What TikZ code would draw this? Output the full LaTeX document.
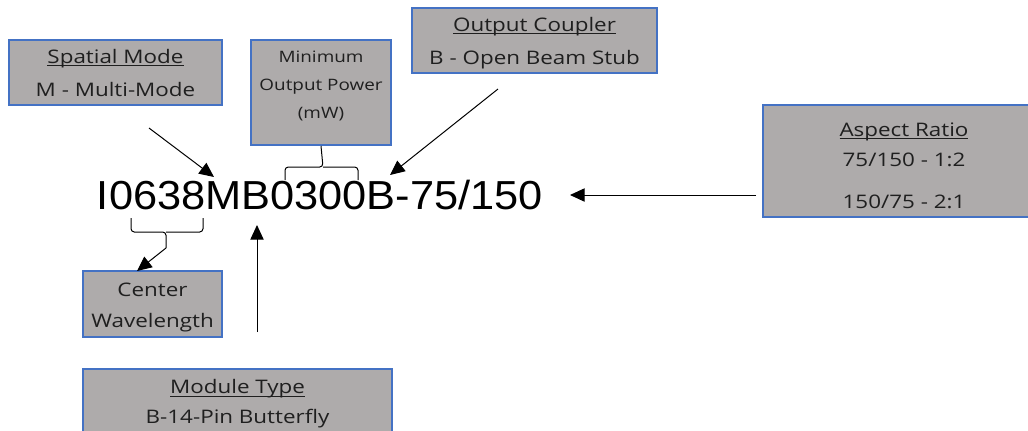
\documentclass[tikz,border=0pt]{standalone}
\usepackage{fontspec}
\usepackage{xcolor}
\usepackage{tikz}
\usetikzlibrary{
    positioning,
    arrows.meta,
    calc
}
\newfontfamily\boxfont[FakeStretch=1.2]{Open Sans}
\newfontfamily\codefont[FakeStretch=1.07]{Liberation Sans}
\definecolor{boxgray}{HTML}{AEABAB}
\definecolor{boxblue}{HTML}{4472C4}
\definecolor{boxtext}{HTML}{1F1F1F}
\newsavebox{\headbox}
\newcommand{\heading}[1]{\sbox{\headbox}{#1}\rlap{\rule[-2.2pt]{\wd\headbox}{0.7pt}}\usebox{\headbox}}

\begin{document}
\begin{tikzpicture}[x=0.75pt, y=-0.75pt,
    infobox/.style={draw=boxblue, line width=1.5pt, fill=boxgray, text=boxtext, align=center, inner sep=0pt},
    pointer/.style={-{Triangle[length=11pt, width=10pt]}, line width=0.75pt},
    bracket/.style={line width=0.75pt, rounded corners=2.5pt}]
    \useasboundingbox (0,0) rectangle (1028,430);
    % 型番
    \node[font=\codefont\fontsize{30.4}{36}\selectfont, inner sep=0pt, anchor=base] (code) at (320,209) {I0638MB0300B-75/150};
    % 各項目の説明
    \node[infobox, minimum width=159.75pt, minimum height=48.75pt, font=\boxfont\fontsize{14}{24.75}\selectfont] (spatial) at (115.5,72.5) {\heading{Spatial Mode}\\M - Multi-Mode};
    \node[infobox, minimum width=105pt, minimum height=78.75pt, font=\boxfont\fontsize{11.8}{21}\selectfont] (power) at (321,92.5) {Minimum\\Output Power\\(mW)\rule[-11pt]{0pt}{11pt}};
    \node[infobox, minimum width=183.75pt, minimum height=48.75pt, font=\boxfont\fontsize{14}{24.75}\selectfont] (coupler) at (534.5,40.5) {\rule{0pt}{14.4pt}\heading{Output Coupler}\\B - Open Beam Stub};
    \node[infobox, minimum width=211.5pt, minimum height=84pt, font=\boxfont\fontsize{14}{22.5}\selectfont] (aspect) at (904,161) {\rule{0pt}{17.4pt}\heading{Aspect Ratio}\\75/150 - 1:2\\[9pt]150/75 - 2:1};
    \node[infobox, minimum width=104.25pt, minimum height=49.5pt, font=\boxfont\fontsize{14}{23.25}\selectfont] (wave) at (152.5,304) {\rule{0pt}{15pt}Center\\Wavelength};
    \node[infobox, minimum width=231.75pt, minimum height=49.5pt, font=\boxfont\fontsize{14}{22.5}\selectfont] (module) at (237.5,402) {\rule{0pt}{13.6pt}\heading{Module Type}\\B-14-Pin Butterfly};

    \coordinate (spatialtail) at (149,128);
    \coordinate (spatialtip) at (214,177);
    \coordinate (couplertail) at (498,89);
    \coordinate (couplertip) at (390,175);
    \coordinate (aspecttail) at (756,195);
    \coordinate (aspecttip) at (570,195);
    \coordinate (moduletail) at (257,332);
    \coordinate (moduletip) at (257,225);
    \coordinate (wavenub) at (166,248);
    \coordinate (wavetip) at (137,271);

    \draw[pointer] (spatialtail) -- (spatialtip);
    \draw[pointer] (couplertail) -- (couplertip);
    \draw[pointer] (aspecttail) -- (aspecttip);
    \draw[pointer] (moduletail) -- (moduletip);
    \draw[pointer] (wavenub) -- (wavetip);

    % かっこ
    \draw[bracket] (131,218) |- (166,232) -- (wavenub);
    \draw[bracket] (203,218) |- (166,232);
    \draw[bracket] (285,180) |- (323,167) -- (power.south);
    \draw[bracket] (358,180) |- (323,167);
\end{tikzpicture}
\end{document}
